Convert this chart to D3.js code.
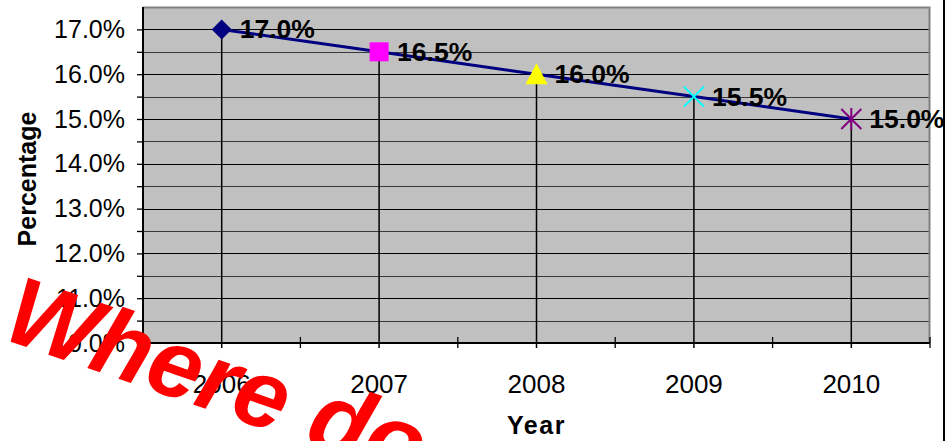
<!DOCTYPE html>
<html>
<head>
<meta charset="utf-8">
<title>Percentage by Year</title>
<script src="https://cdn.jsdelivr.net/npm/d3@7/dist/d3.min.js"></script>
<style>
  body { margin: 0; background: #fff; }
  svg { display: block; font-family: "Liberation Sans", Arial, sans-serif; }
</style>
</head>
<body>
<script>
// chart data
var years = ["2006", "2007", "2008", "2009", "2010"];
var values = [0.170, 0.165, 0.160, 0.155, 0.150];
var markerTypes = ["diamond", "square", "triangle", "x", "star"];
var markerColors = ["#000080", "#FF00FF", "#FFFF00", "#00FFFF", "#800080"];
var yTicks = [0.105, 0.11, 0.115, 0.12, 0.125, 0.13, 0.135, 0.14, 0.145, 0.15, 0.155, 0.16, 0.165, 0.17];

var width = 947, height = 441;
var margin = {top: 7, right: 17, bottom: 98, left: 143};

var svg = d3.select("body").append("svg")
  .attr("width", width).attr("height", height);

var x = d3.scaleBand().domain(years).range([margin.left, width - margin.right]);
var y = d3.scaleLinear().domain([0.10, 0.175]).range([height - margin.bottom, margin.top]);

var x0 = x.range()[0], x1 = x.range()[1];
var y0 = y.range()[0], y1 = y.range()[1];

// plot area
svg.append("rect")
  .attr("x", x0).attr("y", y1)
  .attr("width", x1 - x0).attr("height", y0 - y1)
  .attr("fill", "#C0C0C0");

// gridlines
var isMajor = function(d) { return Math.abs(Math.round(d * 100) - d * 100) < 1e-6; };
svg.append("g").selectAll("line")
  .data(yTicks).enter().append("line")
  .attr("x1", x0).attr("x2", x1)
  .attr("y1", function(d) { return Math.round(y(d)) + 0.5; })
  .attr("y2", function(d) { return Math.round(y(d)) + 0.5; })
  .attr("stroke", function(d) { return isMajor(d) ? "#000" : "#3a3a3a"; })
  .attr("stroke-width", 1.2);

// top / right border of plot area
svg.append("path")
  .attr("d", "M" + x0 + "," + (y1 + 0.5) + "H" + (x1 - 0.5) + "V" + y0)
  .attr("fill", "none").attr("stroke", "#808080").attr("stroke-width", 2);

// drop lines
svg.append("g").selectAll("line")
  .data(values).enter().append("line")
  .attr("x1", function(d, i) { return x(years[i]) + x.bandwidth() / 2; })
  .attr("x2", function(d, i) { return x(years[i]) + x.bandwidth() / 2; })
  .attr("y1", function(d) { return y(d); })
  .attr("y2", y0 + 5)
  .attr("stroke", "#000").attr("stroke-width", 1.5);

// y axis
var yAxis = d3.axisLeft(y)
  .tickValues(yTicks.concat([0.10]))
  .tickSize(6).tickPadding(12)
  .tickFormat(function(d) { return isMajor(d) ? d3.format(".1%")(d) : ""; });
var gy = svg.append("g")
  .attr("transform", "translate(" + x0 + ",0)")
  .call(yAxis);
gy.select(".domain").attr("stroke-width", 2).attr("d", "M0," + y1 + "V" + y0);
gy.selectAll(".tick line").attr("stroke-width", 1.3);
gy.selectAll("text").attr("font-size", 25).attr("fill", "#000")
  .attr("font-family", "Liberation Sans, Arial, sans-serif");

// x axis
var xAxis = d3.axisBottom(x).tickSize(0).tickPadding(32);
var gx = svg.append("g")
  .attr("transform", "translate(0," + y0 + ")")
  .call(xAxis);
gx.select(".domain").attr("stroke-width", 2).attr("d", "M" + x0 + ",0H" + x1);
gx.selectAll("text").attr("font-size", 26).attr("fill", "#000")
  .attr("font-family", "Liberation Sans, Arial, sans-serif");
// boundary tick marks
var bounds = years.map(function(d) { return x(d); }).concat([x1]);
gx.append("g").selectAll("line")
  .data(bounds).enter().append("line")
  .attr("x1", function(d) { return d; }).attr("x2", function(d) { return d; })
  .attr("y1", -6).attr("y2", 5)
  .attr("stroke", "#000").attr("stroke-width", 1.3);

// series line
var line = d3.line()
  .x(function(d, i) { return x(years[i]) + x.bandwidth() / 2; })
  .y(function(d) { return y(d); });
svg.append("path")
  .datum(values)
  .attr("d", line)
  .attr("fill", "none").attr("stroke", "#000080").attr("stroke-width", 3);

// markers
function markerPath(type) {
  switch (type) {
    case "diamond": return "M0,-10L10,0L0,10L-10,0Z";
    case "square": return "M-9.5,-9.5H9.5V9.5H-9.5Z";
    case "triangle": return "M0,-11L11,10H-11Z";
    case "x": return "M-10,-10L10,10M10,-10L-10,10";
    case "star": return "M-10,-10L10,10M10,-10L-10,10M0,-11V11";
  }
  return "";
}
svg.append("g").selectAll("path")
  .data(values).enter().append("path")
  .attr("transform", function(d, i) {
    return "translate(" + (x(years[i]) + x.bandwidth() / 2) + "," + y(d) + ")";
  })
  .attr("d", function(d, i) { return markerPath(markerTypes[i]); })
  .attr("fill", function(d, i) {
    return (markerTypes[i] === "x" || markerTypes[i] === "star") ? "none" : markerColors[i];
  })
  .attr("stroke", function(d, i) {
    return (markerTypes[i] === "x" || markerTypes[i] === "star") ? markerColors[i] : "none";
  })
  .attr("stroke-width", 2);

// data labels
svg.append("g").selectAll("text")
  .data(values).enter().append("text")
  .attr("x", function(d, i) { return x(years[i]) + x.bandwidth() / 2 + 18; })
  .attr("y", function(d) { return y(d) + 9; })
  .attr("font-size", 26.5).attr("font-weight", "bold")
  .text(function(d) { return d3.format(".1%")(d); });

// axis titles
svg.append("text")
  .attr("x", (x0 + x1) / 2).attr("y", 434)
  .attr("text-anchor", "middle")
  .attr("font-size", 25).attr("font-weight", "bold")
  .attr("letter-spacing", 1.5)
  .text("Year");

svg.append("text")
  .attr("transform", "translate(36," + ((y0 + y1) / 2 + 4) + ") rotate(-90)")
  .attr("text-anchor", "middle")
  .attr("font-size", 25).attr("font-weight", "bold")
  .text("Percentage");

// chart area border
svg.append("line")
  .attr("x1", 944).attr("x2", 944).attr("y1", 0).attr("y2", height)
  .attr("stroke", "#000").attr("stroke-width", 2);

// red overlay text
svg.append("text")
  .attr("transform", "translate(0,338) rotate(19)")
  .attr("font-size", 96).attr("font-weight", "bold").attr("font-style", "italic")
  .attr("fill", "#FF0000")
  .text("Where do");
</script>
</body>
</html>
